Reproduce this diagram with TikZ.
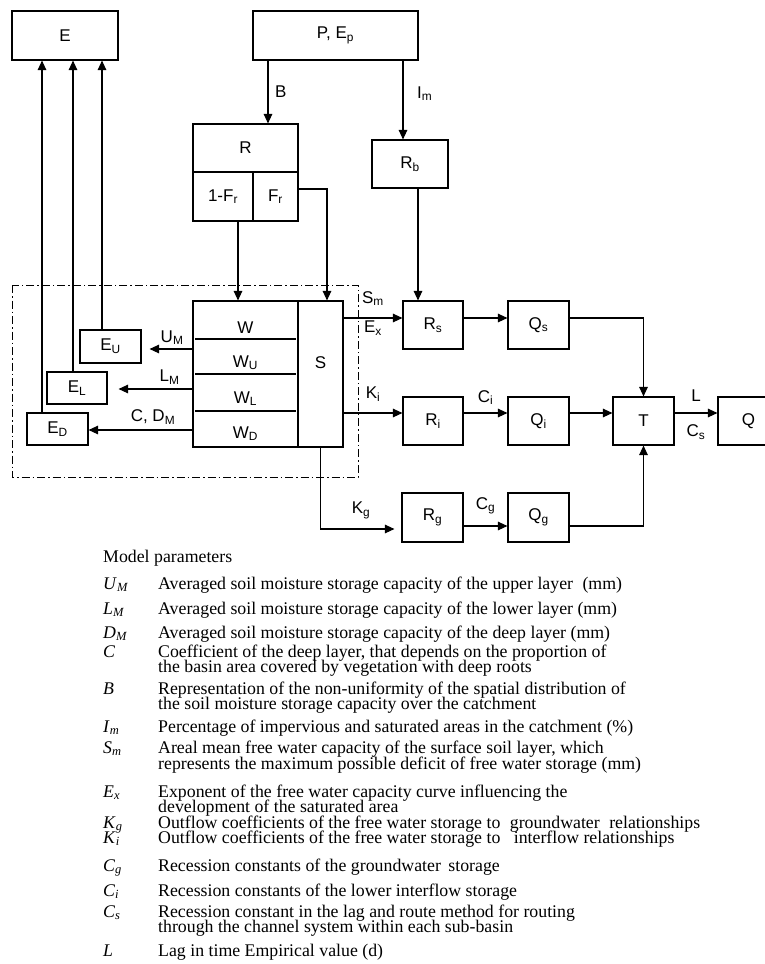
\documentclass[tikz,border=0pt]{standalone}
\usepackage{fontspec}
\setmainfont{Liberation Serif}
\setsansfont{Liberation Sans}
\usetikzlibrary{arrows.meta, positioning}

\newcommand{\psym}[2]{\textit{#1}\textsubscript{\textit{#2}}}
\newcommand{\legrow}[2]{\makebox[55pt][l]{#1}#2}

\begin{document}
\begin{tikzpicture}[x=1pt, y=-1pt,
    blk/.style={draw, line width=1.1pt, minimum width=61, minimum height=48,
                inner sep=0pt, font=\sffamily\fontsize{17}{19}\selectfont},
    lbl/.style={inner sep=2.5pt, font=\sffamily\fontsize{17}{19}\selectfont},
    arr/.style={-{Triangle[length=9.5pt, width=8.5pt]}, line width=1.1pt}
  ]
  \useasboundingbox (0,0) rectangle (765,964);

  % inputs and runoff split
  \node[blk, minimum width=106, minimum height=49] (E)   at (65,35.5)    {E};
  \node[blk, minimum width=165, minimum height=49] (PEp) at (335.5,35.5) {P, E\textsubscript{p}};
  \node[blk, minimum width=105] (R)   at (245.5,148)   {R};
  \node[blk, minimum width=60, minimum height=49] (ofr) at (223,196.5)   {1-F\textsubscript{r}};
  \node[blk, minimum width=45, minimum height=49] (fr)  at (275.5,196.5) {F\textsubscript{r}};
  \node[blk, minimum width=76]  (Rb)  at (410,164)     {R\textsubscript{b}};

  % soil moisture layers and free water storage
  \draw[line width=1pt, dash pattern=on 8pt off 3pt on 1.5pt off 3pt]
        (12,285) rectangle (358,477);
  \node[blk, minimum width=105, minimum height=146] (wstack) at (245.5,374) {};
  \node[blk, minimum width=45, minimum height=146]  (S)      at (320.5,374) {};
  \node[lbl, anchor=base] (Slbl) at (320.5,368) {S};
  \draw[line width=1.1pt] (195,339) -- (296,339)
                          (195,374) -- (296,374)
                          (195,411) -- (296,411);
  \node[lbl, anchor=base] (lw)  at (245.5,333) {W};
  \node[lbl, anchor=base] (lwu) at (245.5,367) {W\textsubscript{U}};
  \node[lbl, anchor=base] (lwl) at (245.5,403) {W\textsubscript{L}};
  \node[lbl, anchor=base] (lwd) at (245.5,438) {W\textsubscript{D}};

  \node[blk, minimum height=33] (EU) at (110.5,346.5) {E\textsubscript{U}};
  \node[blk, minimum width=60, minimum height=32] (EL) at (77,388) {E\textsubscript{L}};
  \node[blk, minimum height=32] (ED) at (57.5,429) {E\textsubscript{D}};

  % routing
  \node[blk, minimum width=60] (Rs) at (433,325)   {R\textsubscript{s}};
  \node[blk] (Qs) at (538.5,325) {Q\textsubscript{s}};
  \node[blk, minimum width=60] (Ri) at (433,421)   {R\textsubscript{i}};
  \node[blk] (Qi) at (538.5,421) {Q\textsubscript{i}};
  \node[blk] (T)  at (643.5,421) {T};
  \node[blk] (Q)  at (748.5,421) {Q};
  \node[blk, minimum height=49] (Rg) at (432.5,517.5) {R\textsubscript{g}};
  \node[blk, minimum height=49] (Qg) at (538.5,517.5) {Q\textsubscript{g}};

  \draw[arr] ([xshift=-67.5pt]PEp.south) -- ([xshift=-67.5pt]PEp.south |- R.north)
        node[lbl, midway, right=4pt] {B};
  \draw[arr] ([xshift=67.5pt]PEp.south) -- ([xshift=67.5pt]PEp.south |- Rb.north)
        node[lbl, pos=0.42, right=11pt] {I\textsubscript{m}};
  \draw[arr] ([xshift=15pt]ofr.south) -- ([xshift=15pt]ofr.south |- wstack.north);
  \draw[arr] ([yshift=7.5pt]fr.east) -| ([xshift=6.5pt]S.north);
  \draw[arr] ([xshift=8pt]Rb.south) -- ([xshift=8pt]Rb.south |- Rs.north);

  % evaporation
  \draw[arr, shorten >=8pt] (wstack.west |- 0,349) -- (EU.east |- 0,349)
        node[lbl, pos=0.4, above=1pt] {U\textsubscript{M}};
  \draw[arr, shorten >=11pt] (wstack.west |- 0,389) -- (EL.east |- 0,389)
        node[lbl, pos=0.27, above=1.5pt] {L\textsubscript{M}};
  \draw[arr] (wstack.west |- 0,430) -- (ED.east |- 0,430)
        node[lbl, pos=0.38, above=2.5pt] {C, D\textsubscript{M}};
  \draw[arr] ([xshift=-8.5pt]EU.north) -- ([xshift=-8.5pt]EU.north |- E.south);
  \draw[arr] ([xshift=-4pt]EL.north) -- ([xshift=-4pt]EL.north |- E.south);
  \draw[arr] ([xshift=-15.5pt]ED.north) -- ([xshift=-15.5pt]ED.north |- E.south);

  % outflows of the free water storage
  \draw[arr] ([yshift=7pt]Rs.west -| S.east) -- ([yshift=7pt]Rs.west)
        node[lbl, midway, above=9pt] {S\textsubscript{m}}
        node[lbl, midway, below] {E\textsubscript{x}};
  \draw[arr] ([yshift=8pt]Ri.west -| S.east) -- ([yshift=8pt]Ri.west)
        node[lbl, midway, above=8.5pt] {K\textsubscript{i}};
  \draw[arr, shorten >=7pt] (S.south) |- ([yshift=-11.5pt]Rg.west)
        node[lbl, pos=0.75, above=7pt] {K\textsubscript{g}};

  \draw[arr] ([yshift=7pt]Rs.east) -- ([yshift=7pt]Qs.west);
  \draw[arr] ([yshift=8pt]Ri.east) -- ([yshift=8pt]Qi.west)
        node[lbl, midway, above=5pt] {C\textsubscript{i}};
  \draw[arr] ([yshift=-8.5pt]Rg.east) -- ([yshift=-8.5pt]Qg.west)
        node[lbl, midway, above=8.5pt] {C\textsubscript{g}};
  \draw[arr] ([yshift=7pt]Qs.east) -| (T.north);
  \draw[arr] ([yshift=8pt]Qi.east) -- ([yshift=8pt]T.west);
  \draw[arr] ([yshift=-8.5pt]Qg.east) -| (T.south);
  \draw[arr] ([yshift=8pt]T.east) -- ([yshift=8pt]Q.west)
        node[lbl, midway, above=8pt] {L}
        node[lbl, midway, below=9pt] {C\textsubscript{s}};

  % parameter list
  \node[anchor=base west, inner sep=0pt] (params) at (103,562) {\parbox[t]{650pt}{%
    \fontsize{17.8}{15}\selectfont\lineskiplimit=-\maxdimen\parindent=0pt
    Model parameters\\[12pt]
    \legrow{\psym{U}{M}}{Averaged soil moisture storage capacity of the upper layer\hspace{5pt} (mm)}\\[10pt]
    \legrow{\psym{L}{M}}{Averaged soil moisture storage capacity of the lower layer (mm)}\\[9pt]
    \legrow{\psym{D}{M}}{Averaged soil moisture storage capacity of the deep layer (mm)}\\[4pt]
    \legrow{\textit{C}}{Coefficient of the deep layer, that depends on the proportion of}\\
    \legrow{}{the basin area covered by vegetation with deep roots}\\[7pt]
    \legrow{\textit{B}}{Representation of the non-uniformity of the spatial distribution of}\\
    \legrow{}{the soil moisture storage capacity over the catchment}\\[8pt]
    \legrow{\psym{I}{m}}{Percentage of impervious and saturated areas in the catchment (\%)}\\[6pt]
    \legrow{\psym{S}{m}}{Areal mean free water capacity of the surface soil layer, which}\\[1pt]
    \legrow{}{represents the maximum possible deficit of free water storage (mm)}\\[13pt]
    \legrow{\psym{E}{x}}{Exponent of the free water capacity curve influencing the}\\
    \legrow{}{development of the saturated area}\\[1pt]
    \legrow{\psym{K}{g}}{Outflow coefficients of the free water storage to\hspace{5pt} groundwater\hspace{5pt} relationships}\\
    \legrow{\psym{K}{i}}{Outflow coefficients of the free water storage to\hspace{9pt} interflow relationships}\\[13pt]
    \legrow{\psym{C}{g}}{Recession constants of the groundwater\hspace{3pt} storage}\\[10pt]
    \legrow{\psym{C}{i}}{Recession constants of the lower interflow storage}\\[6pt]
    \legrow{\psym{C}{s}}{Recession constant in the lag and route method for routing}\\
    \legrow{}{through the channel system within each sub-basin}\\[9pt]
    \legrow{\textit{L}}{Lag in time Empirical value (d)}}};
\end{tikzpicture}
\end{document}
